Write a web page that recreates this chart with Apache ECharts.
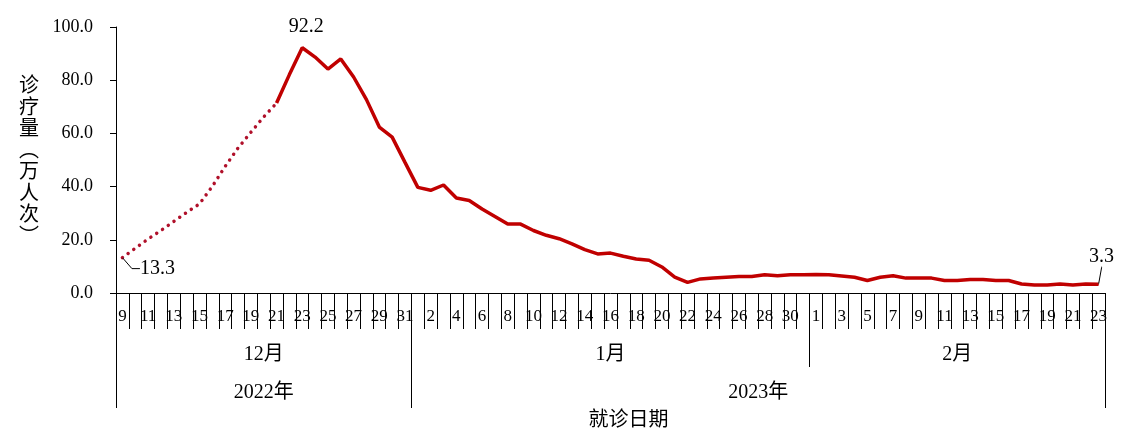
<!DOCTYPE html>
<html>
<head>
<meta charset="utf-8">
<script src="https://cdn.jsdelivr.net/npm/echarts@6/dist/echarts.min.js"></script>
<style>
  html, body { margin: 0; padding: 0; background: #fff; }
  #main { width: 1125px; height: 436px; }
</style>
</head>
<body>
<div id="main"></div>
<script>
// 就诊日期 (2022-12-09 ~ 2023-02-23)
var days = ['9','10','11','12','13','14','15','16','17','18','19','20','21','22','23','24','25','26','27','28','29','30','31',
  '1','2','3','4','5','6','7','8','9','10','11','12','13','14','15','16','17','18','19','20','21','22','23','24','25','26','27','28','29','30','31',
  '1','2','3','4','5','6','7','8','9','10','11','12','13','14','15','16','17','18','19','20','21','22','23'];
var monthNames = ['12月', '1月', '2月'];
var monthDays = [23, 31, 23];
var yearNames = ['2022年', '2023年'];
var yearDays = [23, 54];

// 诊疗量（万人次）
var visits = [13.3, 16.8, 20.3, 23.5, 26.9, 30.3, 33.5, 40.1, 47.6, 54.5, 60.4, 66.2, 71.4,
  82.1, 92.2, 88.7, 84.2, 88.0, 81.2, 72.7, 62.4, 58.6, 49.1,
  39.7, 38.6, 40.6, 35.7, 34.8, 31.6, 28.8, 25.9, 25.9, 23.5, 21.7, 20.4, 18.5, 16.3, 14.7, 15.0,
  13.8, 12.8, 12.3, 9.8, 6.0, 4.0, 5.3, 5.6, 5.9, 6.2, 6.2, 6.9, 6.5, 6.9, 6.9,
  7.0, 6.9, 6.4, 5.9, 4.7, 5.9, 6.5, 5.6, 5.6, 5.6, 4.7, 4.7, 5.1, 5.1, 4.7, 4.7, 3.4, 3.0, 3.0, 3.4, 3.0, 3.4, 3.3];
var dottedEnd = 12;           // 12月21日之前为虚线
var labelled = [0, 14, 76];   // 标注数值的点

var font = "'Times New Roman', 'Liberation Serif', 'Noto Sans CJK SC', serif";
var cjk = "'Noto Sans CJK SC', sans-serif";
var red = '#C00000';

// 分组边界与中点
function groups(sizes) {
  var starts = [], mids = {}, pos = 0;
  sizes.forEach(function (n, k) {
    starts.push(pos);
    mids[pos + Math.floor(n / 2) - (n % 2 ? 0 : 1)] = { k: k, even: n % 2 === 0 };
    pos += n;
  });
  return { starts: starts, mids: mids };
}
var mg = groups(monthDays), yg = groups(yearDays);

var labelCfg = {
  0: { label: { show: true, padding: [0, 0, 0, 8] }, labelLine: { show: true, length2: 8 } },
  14: { label: { show: true } },
  76: { label: { show: true }, labelLine: { show: true, length2: 1 } }
};
function point(v, i) {
  if (labelled.indexOf(i) < 0) return v;
  return Object.assign({ value: v }, labelCfg[i]);
}
var dotted = visits.map(function (v, i) { return i <= dottedEnd ? point(v, i) : '-'; });
var solid = visits.map(function (v, i) { return i >= dottedEnd ? point(v, i) : '-'; });
function symSize(v, p) { return labelled.indexOf(p.dataIndex) >= 0 ? 1 : 0; }

var chart = echarts.init(document.getElementById('main'));
var band = (1125 - 116 - 20) / days.length;

function groupAxis(g, names, tickLen, margin) {
  return {
    type: 'category',
    data: days,
    position: 'bottom',
    boundaryGap: true,
    axisLine: { show: false, onZero: false },
    axisTick: {
      show: true,
      interval: function (i) { return g.starts.indexOf(i) >= 0; },
      length: tickLen,
      lineStyle: { color: '#000', width: 1 }
    },
    axisLabel: {
      interval: function (i) { return g.mids[i] !== undefined; },
      margin: margin,
      formatter: function (v, i) {
        var m = g.mids[i];
        if (!m) return '';
        return m.even ? '{e|' + names[m.k] + '}' : '{o|' + names[m.k] + '}';
      },
      rich: {
        o: { fontSize: 20, fontFamily: font, color: '#000' },
        e: { fontSize: 20, fontFamily: font, color: '#000', padding: [0, 0, 0, band] }
      }
    }
  };
}

var option = {
  animation: false,
  grid: { left: 116, right: 20, top: 27, bottom: 143 },
  xAxis: [
    {
      type: 'category',
      data: days,
      position: 'bottom',
      boundaryGap: true,
      axisLine: { onZero: false, lineStyle: { color: '#000', width: 1 } },
      axisTick: { show: true, interval: 0, length: 36, lineStyle: { color: '#000', width: 1 } },
      axisLabel: { interval: 1, margin: 15, fontSize: 17, fontFamily: font, color: '#000' },
      name: '就诊日期',
      nameLocation: 'middle',
      nameGap: 115,
      nameTextStyle: { fontSize: 20, fontFamily: cjk, color: '#000', padding: [0, 0, 0, 36] }
    },
    groupAxis(mg, monthNames, 74, 52),
    groupAxis(yg, yearNames, 115, 90)
  ],
  yAxis: {
    type: 'value',
    min: 0,
    max: 100,
    interval: 20,
    axisLine: { show: true, lineStyle: { color: '#000', width: 1 } },
    axisTick: { show: true, length: 6, lineStyle: { color: '#000' } },
    splitLine: { show: false },
    axisLabel: {
      margin: 23, fontSize: 18, fontFamily: font, color: '#000',
      formatter: function (v) { return v.toFixed(1); }
    },
    name: '诊疗量︵万人次︶'.split('').join('\n'),
    nameLocation: 'middle',
    nameRotate: 0,
    nameGap: 87,
    nameTextStyle: { fontSize: 20, lineHeight: 21.5, fontFamily: cjk, color: '#000', align: 'center', verticalAlign: 'middle' }
  },
  series: [
    {
      type: 'line',
      data: dotted,
      symbol: 'circle',
      symbolSize: symSize,
      showSymbol: true,
      showAllSymbol: true,
      lineStyle: { color: '#B0102A', width: 3.5, type: [0.01, 7], cap: 'round' },
      itemStyle: { color: '#B0102A' },
      label: { show: false, position: 'right', fontSize: 20, fontFamily: font, color: '#000' },
      labelLine: { show: false, lineStyle: { color: '#000', width: 1 } },
      labelLayout: function (p) { return p.dataIndex === 0 ? { dx: 4, dy: 11 } : {}; }
    },
    {
      type: 'line',
      data: solid,
      symbol: 'circle',
      symbolSize: symSize,
      showSymbol: true,
      showAllSymbol: true,
      lineStyle: { color: red, width: 3.5 },
      itemStyle: { color: red },
      label: { show: false, position: 'top', fontSize: 20, fontFamily: font, color: '#000' },
      labelLine: { show: false, lineStyle: { color: '#000', width: 1 } },
      labelLayout: function (p) {
        if (p.dataIndex === 14) return { dx: 4, dy: -5 };
        if (p.dataIndex === 76) return { dx: 3, dy: -12 };
        return {};
      }
    }
  ]
};
chart.setOption(option);
</script>
</body>
</html>
